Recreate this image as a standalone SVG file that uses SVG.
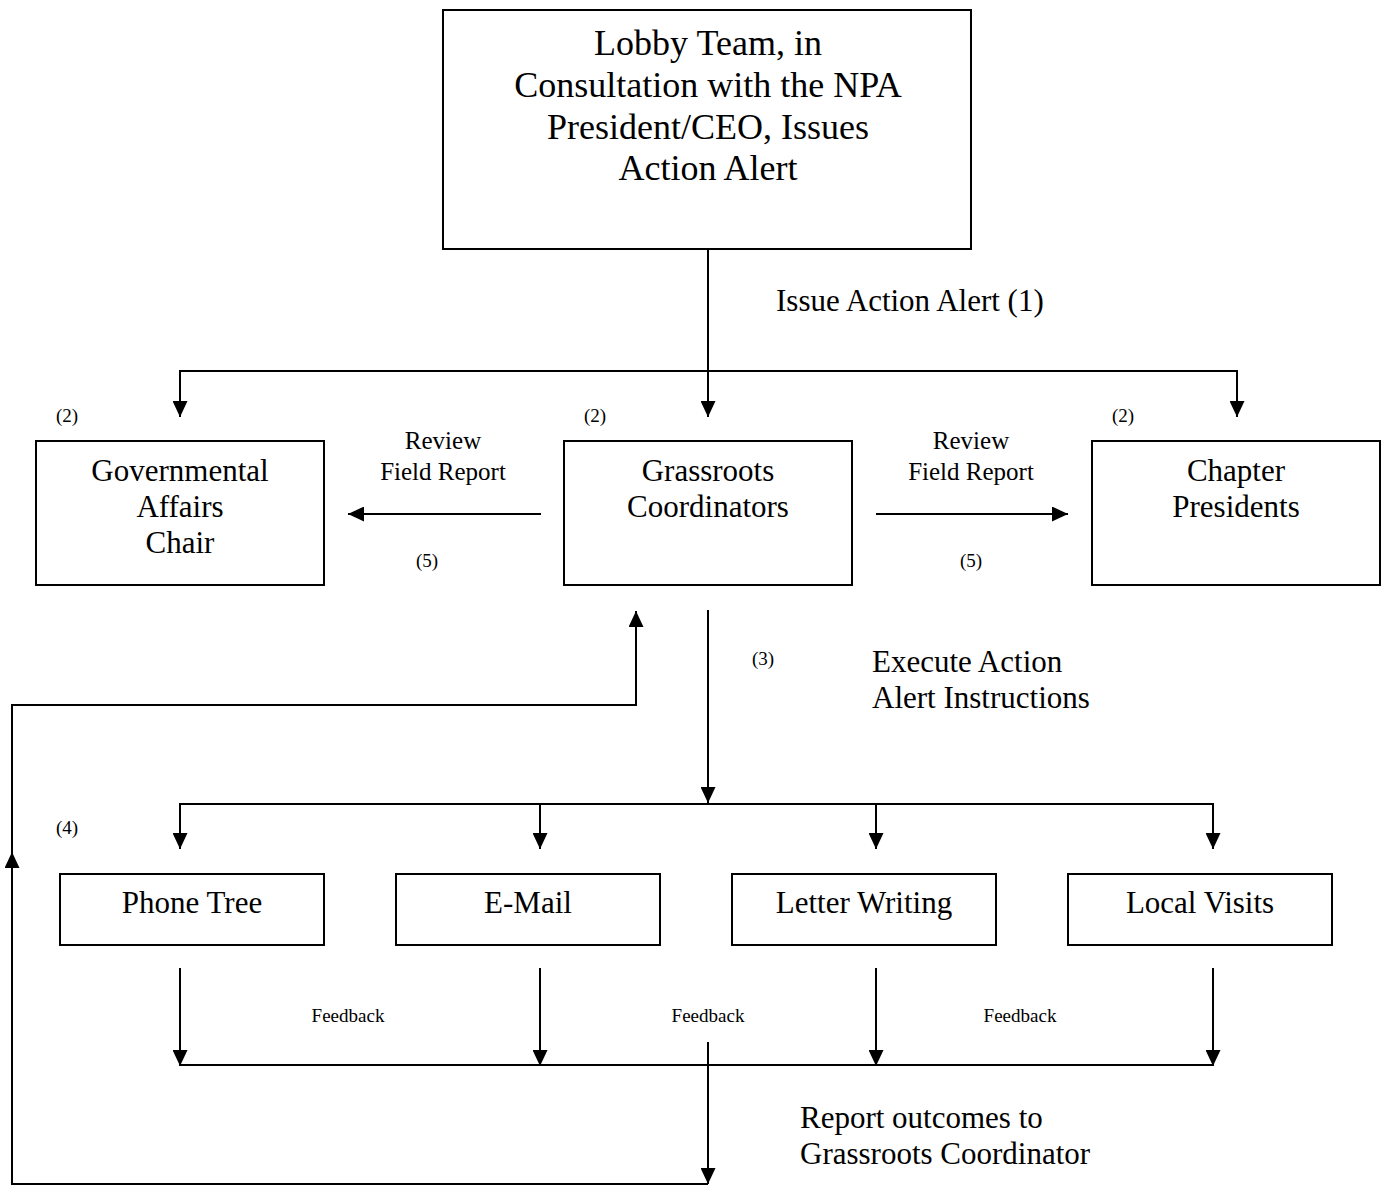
<svg xmlns="http://www.w3.org/2000/svg" width="1382" height="1186" viewBox="0 0 1382 1186">
<style>
.box{fill:#fff;stroke:#000;stroke-width:2}
.t{font-family:"Liberation Serif",serif;fill:#000;text-anchor:middle}
.big{font-size:36px}
.mid{font-size:31px}
.sm{font-size:25px}
.xs{font-size:19px}
.l{text-anchor:start}
.c{fill:none;stroke:#000;stroke-width:2}
</style>
<defs>
<marker id="ah" markerUnits="userSpaceOnUse" markerWidth="16" markerHeight="15" refX="16" refY="7.5" orient="auto">
<path d="M0,0 L16,7.5 L0,15 Z" fill="#000"/>
</marker>
</defs>
<rect width="1382" height="1186" fill="#fff"/>
<g id="connectors">
<line class="c" x1="708" y1="249" x2="708" y2="417" marker-end="url(#ah)"/>
<polyline class="c" points="180,371 1237,371"/>
<line class="c" x1="180" y1="370" x2="180" y2="417" marker-end="url(#ah)"/>
<line class="c" x1="1237" y1="370" x2="1237" y2="417" marker-end="url(#ah)"/>
<line class="c" x1="541" y1="514" x2="348" y2="514" marker-end="url(#ah)"/>
<line class="c" x1="876" y1="514" x2="1068" y2="514" marker-end="url(#ah)"/>
<line class="c" x1="708" y1="610" x2="708" y2="803" marker-end="url(#ah)"/>
<polyline class="c" points="180,804 1213,804"/>
<line class="c" x1="180" y1="803" x2="180" y2="849" marker-end="url(#ah)"/>
<line class="c" x1="540" y1="803" x2="540" y2="849" marker-end="url(#ah)"/>
<line class="c" x1="876" y1="803" x2="876" y2="849" marker-end="url(#ah)"/>
<line class="c" x1="1213" y1="803" x2="1213" y2="849" marker-end="url(#ah)"/>
<line class="c" x1="180" y1="968" x2="180" y2="1066" marker-end="url(#ah)"/>
<line class="c" x1="540" y1="968" x2="540" y2="1066" marker-end="url(#ah)"/>
<line class="c" x1="876" y1="968" x2="876" y2="1066" marker-end="url(#ah)"/>
<line class="c" x1="1213" y1="968" x2="1213" y2="1066" marker-end="url(#ah)"/>
<polyline class="c" points="180,1065 1213,1065"/>
<line class="c" x1="708" y1="1042" x2="708" y2="1184" marker-end="url(#ah)"/>
<polyline class="c" points="708,1184 12,1184 12,860"/>
<line class="c" x1="12" y1="1000" x2="12" y2="852" marker-end="url(#ah)"/>
<polyline class="c" points="12,860 12,705 636,705 636,640"/>
<line class="c" x1="636" y1="660" x2="636" y2="611" marker-end="url(#ah)"/>
</g>
<g id="lobby">
<rect class="box" x="443" y="10" width="528" height="239"/>
<text class="t big" x="708" y="55">Lobby Team, in</text>
<text class="t big" x="708" y="97">Consultation with the NPA</text>
<text class="t big" x="708" y="139">President/CEO, Issues</text>
<text class="t big" x="708" y="180">Action Alert</text>
</g>
<g id="gov">
<rect class="box" x="36" y="441" width="288" height="144"/>
<text class="t mid" x="180" y="481">Governmental</text>
<text class="t mid" x="180" y="517">Affairs</text>
<text class="t mid" x="180" y="553">Chair</text>
</g>
<g id="grassroots">
<rect class="box" x="564" y="441" width="288" height="144"/>
<text class="t mid" x="708" y="481">Grassroots</text>
<text class="t mid" x="708" y="517">Coordinators</text>
</g>
<g id="chapter">
<rect class="box" x="1092" y="441" width="288" height="144"/>
<text class="t mid" x="1236" y="481">Chapter</text>
<text class="t mid" x="1236" y="517">Presidents</text>
</g>
<g id="phone">
<rect class="box" x="60" y="874" width="264" height="71"/>
<text class="t mid" x="192" y="913">Phone Tree</text>
</g>
<g id="email">
<rect class="box" x="396" y="874" width="264" height="71"/>
<text class="t mid" x="528" y="913">E-Mail</text>
</g>
<g id="letter">
<rect class="box" x="732" y="874" width="264" height="71"/>
<text class="t mid" x="864" y="913">Letter Writing</text>
</g>
<g id="visits">
<rect class="box" x="1068" y="874" width="264" height="71"/>
<text class="t mid" x="1200" y="913">Local Visits</text>
</g>
<g id="labels">
<text class="t mid l" x="776" y="311">Issue Action Alert (1)</text>
<text class="t xs" x="67" y="422">(2)</text>
<text class="t xs" x="595" y="422">(2)</text>
<text class="t xs" x="1123" y="422">(2)</text>
<text class="t sm" x="443" y="449">Review</text>
<text class="t sm" x="443" y="480">Field Report</text>
<text class="t sm" x="971" y="449">Review</text>
<text class="t sm" x="971" y="480">Field Report</text>
<text class="t xs" x="427" y="567">(5)</text>
<text class="t xs" x="971" y="567">(5)</text>
<text class="t xs" x="763" y="665">(3)</text>
<text class="t mid l" x="872" y="672">Execute Action</text>
<text class="t mid l" x="872" y="708">Alert Instructions</text>
<text class="t xs" x="67" y="834">(4)</text>
<text class="t xs" x="348" y="1022">Feedback</text>
<text class="t xs" x="708" y="1022">Feedback</text>
<text class="t xs" x="1020" y="1022">Feedback</text>
<text class="t mid l" x="800" y="1128">Report outcomes to</text>
<text class="t mid l" x="800" y="1164">Grassroots Coordinator</text>
</g>
</svg>
